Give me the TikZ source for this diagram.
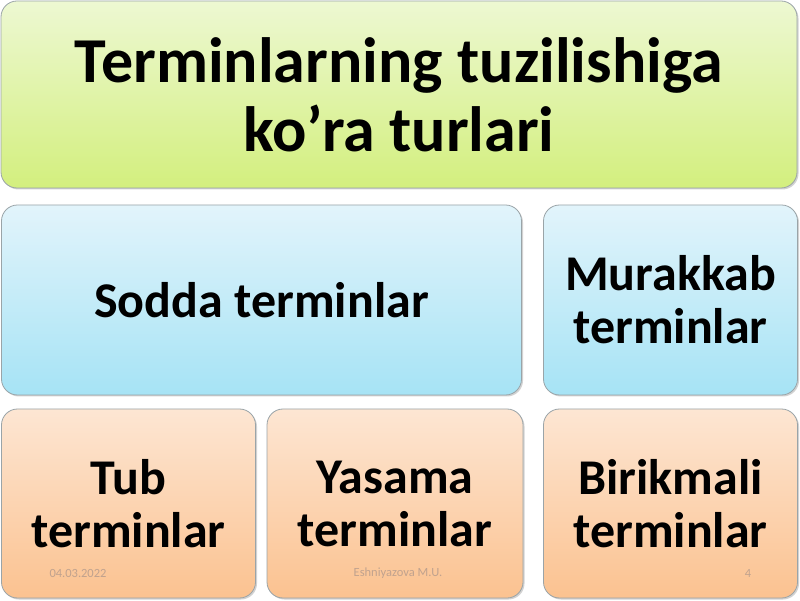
\documentclass[tikz,border=0pt]{standalone}
\usepackage{fontspec}
\setmainfont{Carlito}
\usetikzlibrary{shadows}
\definecolor{gtop}{HTML}{EDF8D2}
\definecolor{gbot}{HTML}{D3EF7E}
\definecolor{btop}{HTML}{E2F4FB}
\definecolor{bbot}{HTML}{A6E3F5}
\definecolor{otop}{HTML}{FDE6D3}
\definecolor{obot}{HTML}{FBC290}
\definecolor{edge}{HTML}{9AA4A8}
\definecolor{foot}{HTML}{C0A28E}
\tikzset{
  box/.style={draw=edge, line width=0.8pt, rounded corners=16pt, align=center,
    inner sep=0pt, font=\bfseries,
    drop shadow={shadow xshift=1.5pt, shadow yshift=-1.5pt, opacity=0.35, fill=gray}},
  greenbox/.style={box, top color=gtop, bottom color=gbot},
  bluebox/.style={box, top color=btop, bottom color=bbot},
  orangebox/.style={box, top color=otop, bottom color=obot},
  bigtext/.style={font=\bfseries\fontsize{50}{53}\selectfont},
  footer/.style={font=\fontsize{12.5}{14}\selectfont, text=foot, inner sep=0pt}
}
\begin{document}
\begin{tikzpicture}[x=1pt,y=1pt]
\useasboundingbox[fill=white] (0,0) rectangle (800,600);
\node[greenbox, minimum width=796pt, minimum height=187pt,
  font=\bfseries\fontsize{64}{69}\selectfont] (title) at (399,505.5)
  {Terminlarning tuzilishiga\\ko’ra turlari};
\node[bluebox, bigtext, minimum width=520pt, minimum height=190pt] (sodda) at (261.5,300)
  {Sodda terminlar};
\node[bluebox, bigtext, minimum width=254pt, minimum height=190pt] (murakkab) at (670.5,300)
  {Murakkab\\terminlar};
\node[orangebox, bigtext, minimum width=254pt, minimum height=189pt] (tub) at (128.5,96.5)
  {Tub\\terminlar};
\node[orangebox, bigtext, minimum width=256pt, minimum height=189pt] (yasama) at (395,96.5)
  {Yasama\\terminlar};
\node[orangebox, bigtext, minimum width=254pt, minimum height=189pt] (birikmali) at (670.5,96.5)
  {Birikmali\\terminlar};
\node[footer] (date) at (78,27) {04.03.2022};
\node[footer] (author) at (398,27) {Eshniyazova M.U.};
\node[footer] (page) at (748,27) {4};
\end{tikzpicture}
\end{document}
